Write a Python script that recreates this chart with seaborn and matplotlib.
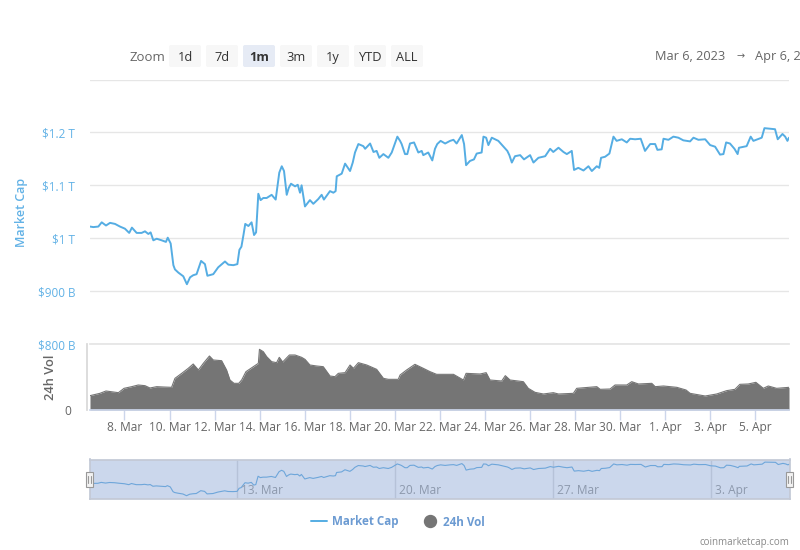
import pandas as pd
import seaborn as sns
import matplotlib
matplotlib.use("Agg")
import matplotlib.pyplot as plt
from matplotlib.lines import Line2D
from matplotlib.patches import FancyBboxPatch, Rectangle

# day numbers count from 28 Feb 2023, so 8 = 8 Mar and 32 = 1 Apr
mcap_days = [6.47, 6.62, 6.84, 6.99, 7.18, 7.36, 7.58, 7.80, 8.02, 8.21, 8.33, 8.54, 8.76, 8.91, 9.06, 9.16,
             9.28, 9.43, 9.65, 9.84, 9.92, 10.05, 10.17, 10.24, 10.39, 10.61, 10.77, 10.91, 11.05, 11.20, 11.40, 11.57,
             11.68, 11.94, 12.16, 12.46, 12.61, 12.83, 13.01, 13.10, 13.19, 13.28, 13.36, 13.50, 13.64, 13.75, 13.84, 13.94,
             14.04, 14.16, 14.31, 14.53, 14.71, 14.87, 14.98, 15.08, 15.20, 15.29, 15.39, 15.57, 15.69, 15.79, 15.86, 16.01,
             16.23, 16.38, 16.60, 16.75, 16.85, 17.12, 17.27, 17.37, 17.42, 17.64, 17.79, 18.01, 18.13, 18.23, 18.38, 18.60,
             18.68, 18.90, 19.05, 19.19, 19.31, 19.49, 19.71, 19.86, 20.11, 20.23, 20.30, 20.45, 20.55, 20.67, 20.85, 21.04,
             21.19, 21.26, 21.48, 21.66, 21.78, 21.88, 22.03, 22.23, 22.45, 22.60, 22.74, 22.97, 23.07, 23.16, 23.33, 23.51,
             23.63, 23.85, 23.93, 24.05, 24.15, 24.30, 24.59, 24.82, 24.99, 25.08, 25.19, 25.33, 25.56, 25.73, 26.00, 26.15,
             26.37, 26.67, 26.89, 27.03, 27.26, 27.48, 27.63, 27.85, 27.95, 28.14, 28.37, 28.59, 28.74, 28.96, 29.07, 29.15,
             29.33, 29.52, 29.70, 29.84, 30.07, 30.29, 30.44, 30.66, 30.91, 31.10, 31.33, 31.55, 31.65, 31.84, 31.92, 32.14,
             32.36, 32.58, 32.80, 33.10, 33.25, 33.47, 33.77, 33.99, 34.21, 34.43, 34.58, 34.70, 34.87, 35.07, 35.21, 35.27,
             35.61, 35.79, 35.91, 36.28, 36.40, 36.87, 36.99, 37.20, 37.32, 37.42, 37.49]
# market cap, $ billions
mcap_vals = [1022, 1021, 1022, 1030, 1024, 1029, 1027, 1022, 1018, 1010, 1020, 1010, 1010, 1013, 1008, 1011,
             996, 999, 996, 993, 1001, 990, 949, 941, 935, 928, 913, 926, 930, 932, 957, 951,
             929, 932, 945, 956, 950, 949, 951, 978, 984, 1006, 1027, 1023, 1030, 1006, 1011, 1084,
             1072, 1076, 1076, 1082, 1073, 1124, 1136, 1127, 1082, 1095, 1103, 1098, 1101, 1086, 1100, 1060,
             1072, 1065, 1074, 1082, 1073, 1089, 1086, 1089, 1117, 1122, 1141, 1127, 1143, 1162, 1178, 1174,
             1169, 1179, 1163, 1165, 1152, 1159, 1152, 1162, 1192, 1184, 1178, 1159, 1159, 1179, 1181, 1162,
             1165, 1157, 1162, 1147, 1169, 1178, 1184, 1179, 1184, 1186, 1179, 1195, 1178, 1138, 1146, 1149,
             1160, 1162, 1192, 1190, 1176, 1190, 1184, 1173, 1165, 1157, 1143, 1155, 1157, 1149, 1157, 1143,
             1152, 1155, 1169, 1163, 1171, 1163, 1159, 1165, 1129, 1133, 1128, 1136, 1127, 1136, 1133, 1152,
             1154, 1160, 1192, 1184, 1187, 1181, 1188, 1187, 1188, 1165, 1178, 1178, 1167, 1168, 1188, 1186,
             1192, 1190, 1185, 1183, 1190, 1186, 1187, 1176, 1173, 1158, 1159, 1181, 1179, 1169, 1159, 1171,
             1174, 1192, 1184, 1190, 1208, 1206, 1187, 1197, 1192, 1184, 1190]

vol_days = [6.47, 6.91, 7.18, 7.73, 7.98, 8.32, 8.61, 8.91, 9.13, 9.43, 9.72, 10.09, 10.24, 10.54, 10.83, 11.05,
            11.28, 11.50, 11.77, 11.94, 12.31, 12.53, 12.68, 12.86, 13.07, 13.20, 13.39, 13.72, 13.94, 13.99, 14.16, 14.31,
            14.53, 14.75, 14.87, 15.02, 15.32, 15.57, 15.86, 16.01, 16.23, 16.53, 16.82, 17.12, 17.34, 17.49, 17.79, 18.01,
            18.16, 18.38, 18.75, 19.19, 19.49, 19.71, 20.15, 20.23, 20.52, 20.89, 21.26, 21.56, 21.85, 22.60, 23.04, 23.16,
            23.78, 24.05, 24.22, 24.74, 24.90, 25.11, 25.70, 25.92, 26.22, 26.59, 27.03, 27.26, 27.92, 28.07, 28.96, 29.11,
            29.55, 29.77, 30.29, 30.51, 30.81, 31.40, 31.55, 31.92, 32.51, 32.92, 33.10, 33.77, 34.28, 34.72, 35.09, 35.31,
            35.68, 36.02, 36.35, 36.57, 36.94, 37.49]
# 24h volume, $ billions (the axis only labels 0, so this scale is estimated)
vol_vals = [43, 50, 57, 52, 65, 70, 75, 73, 66, 70, 69, 68, 95, 110, 125, 138,
            120, 140, 162, 150, 148, 120, 90, 80, 80, 90, 115, 130, 140, 182, 175, 160,
            145, 142, 158, 144, 165, 165, 158, 152, 135, 132, 130, 102, 100, 110, 112, 135,
            125, 142, 135, 122, 95, 92, 92, 105, 120, 137, 125, 115, 107, 107, 90, 110,
            108, 112, 90, 87, 103, 90, 85, 65, 53, 48, 52, 48, 50, 65, 70, 62,
            63, 75, 75, 85, 78, 80, 70, 72, 68, 60, 50, 42, 48, 58, 62, 77,
            78, 83, 65, 72, 65, 68]

tick_days = [8, 10, 12, 14, 16, 18, 20, 22, 24, 26, 28, 30, 32, 34, 36]
tick_labels = ["8. Mar", "10. Mar", "12. Mar", "14. Mar", "16. Mar", "18. Mar", "20. Mar", "22. Mar",
               "24. Mar", "26. Mar", "28. Mar", "30. Mar", "1. Apr", "3. Apr", "5. Apr"]
cap_ticks = [800, 900, 1000, 1100, 1200, 1300]
cap_labels = ["$800 B", "$900 B", "$1 T", "$1.1 T", "$1.2 T", ""]
nav_days = [13, 20, 27, 34]
nav_labels = ["13. Mar", "20. Mar", "27. Mar", "3. Apr"]
zoom_buttons = ["1d", "7d", "1m", "3m", "1y", "YTD", "ALL"]

BLUE = "#55ade3"
LABEL_BLUE = "#62b2e6"
GREY = "#757575"
GRID = "#e6e6e6"
W, H = 800, 550


def to_date(days):
    return pd.Timestamp("2023-02-28") + pd.to_timedelta(days, unit="D")


def px_axes(fig, x0, y0, x1, y1):
    return fig.add_axes([x0 / W, 1 - y1 / H, (x1 - x0) / W, (y1 - y0) / H])


sns.set_theme(style="white", font="Open Sans")
fig = plt.figure(figsize=(8, 5.5), dpi=100, facecolor="white")

cap = pd.DataFrame({"date": to_date(mcap_days), "value": mcap_vals})
vol = pd.DataFrame({"date": to_date(vol_days), "value": vol_vals})
xlim = (to_date(6.47), to_date(37.49))

# market cap panel
ax = px_axes(fig, 90, 79.5, 789, 344)
sns.lineplot(data=cap, x="date", y="value", color=BLUE, linewidth=1.4, ax=ax)
ax.set_xlim(xlim)
ax.set_ylim(800, 1300)
ax.set_yticks(cap_ticks, cap_labels)
ax.set_xticks([])
ax.set_xlabel("")
ax.set_ylabel("")
ax.grid(axis="y", color=GRID, linewidth=1)
ax.set_axisbelow(True)
ax.tick_params(axis="y", length=0, pad=10.8, labelcolor=LABEL_BLUE, labelsize=8.5)
sns.despine(ax=ax, left=True, bottom=True)
fig.text(21 / W, 1 - 212 / H, "Market Cap", rotation=90, color=LABEL_BLUE, fontsize=9,
         fontweight="semibold", ha="center", va="center")

# volume panel
ax_vol = px_axes(fig, 90, 344, 789, 410)
sns.lineplot(data=vol, x="date", y="value", color=GREY, linewidth=0.8, ax=ax_vol)
ax_vol.fill_between(vol["date"], vol["value"], color=GREY, linewidth=0)
ax_vol.set_xlim(xlim)
ax_vol.set_ylim(0, 198)
ax_vol.set_yticks([0], ["0"])
ax_vol.set_xticks(to_date(tick_days), tick_labels)
ax_vol.set_xlabel("")
ax_vol.set_ylabel("")
ax_vol.tick_params(axis="x", length=7.2, width=1, color="#ccd6eb", pad=0.5, bottom=True,
                   labelcolor="#666666", labelsize=8.6)
ax_vol.tick_params(axis="y", length=0, pad=11.5, labelcolor="#666666", labelsize=8.6)
ax_vol.spines["bottom"].set_color("#ccd6eb")
ax_vol.spines["left"].set_color("#d8d8d8")
ax_vol.spines["left"].set_position(("outward", 2))
ax_vol.spines["top"].set_color(GRID)
ax_vol.spines["top"].set_linewidth(1.3)
ax_vol.spines["right"].set_visible(False)
ax_vol.patch.set_alpha(0)
fig.text(50 / W, 1 - 377 / H, "24h Vol", rotation=90, color="#666666", fontsize=9.3,
         fontweight="semibold", ha="center", va="center")

# navigator
ax_nav = px_axes(fig, 89.5, 459.5, 789.5, 499)
ax_nav.set_facecolor("#cbd7ec")
sns.lineplot(data=cap, x="date", y="value", color="#6ea6da", linewidth=0.8, ax=ax_nav)
ax_nav.set_xlim(xlim)
ax_nav.set_ylim(884, 1231)
ax_nav.set_yticks([])
ax_nav.set_xticks(to_date(nav_days), [])
ax_nav.set_xlabel("")
ax_nav.set_ylabel("")
ax_nav.tick_params(axis="x", length=0)
ax_nav.grid(axis="x", color="#b6c2d8", linewidth=1)
ax_nav.set_axisbelow(True)
for d, label in zip(nav_days, nav_labels):
    ax_nav.annotate(label, (to_date(d), 0), xycoords=("data", "axes fraction"), xytext=(3, 1.5),
                    textcoords="offset points", color="#8d99ad", fontsize=8.6, ha="left", va="bottom")
for s in ax_nav.spines.values():
    s.set_color("#c3c9d6")

# figure-level pixel overlay for the toolbar and the navigator handles
over = fig.add_axes([0, 0, 1, 1])
over.set_xlim(0, W)
over.set_ylim(H, 0)
over.axis("off")
for hx in (89, 789):
    over.add_patch(Rectangle((hx - 3.5, 471.5), 7.5, 15, facecolor="#f2f2f2", edgecolor="#999999", linewidth=0.8))
    over.plot([hx - 1, hx - 1], [475.5, 482.5], color="#999999", linewidth=0.8)
    over.plot([hx + 1.5, hx + 1.5], [475.5, 482.5], color="#999999", linewidth=0.8)

over.text(130, 61, "Zoom", color="#666666", fontsize=9.5, va="baseline", ha="left")
for i, label in enumerate(zoom_buttons):
    bx = 169 + i * 37
    active = label == "1m"
    over.add_patch(FancyBboxPatch((bx, 45), 32, 22, boxstyle="round,pad=0,rounding_size=2", mutation_aspect=1,
                                  facecolor="#e6ebf5" if active else "#f7f7f7", edgecolor="none"))
    over.text(bx + 16, 61, label, color="#333333", fontsize=9.2, ha="center", va="baseline",
              fontweight="bold" if active else "normal")
over.text(655, 60, "Mar 6, 2023", color="#666666", fontsize=9.2, va="baseline", ha="left")
over.text(741, 56, "→", color="#666666", fontsize=7, va="center", ha="center", family="DejaVu Sans")
over.text(755, 60, "Apr 6, 2", color="#666666", fontsize=9.2, va="baseline", ha="left")
over.text(789, 542, "coinmarketcap.com", color="#888888", fontsize=7, ha="right", va="center")

handles = [Line2D([], [], color=BLUE, linewidth=1.4),
           Line2D([], [], color=GREY, marker="o", markersize=8.6, linestyle="none")]
fig.legend(handles, ["Market Cap", "24h Vol"], loc="center", bbox_to_anchor=(397.5 / W, 1 - 522 / H), ncol=2,
           frameon=False, labelcolor="#6c9bd2", prop={"size": 8.4, "weight": "bold"}, handlelength=1.37,
           columnspacing=2, handletextpad=0.43)

fig.savefig("out.png", dpi=100)
